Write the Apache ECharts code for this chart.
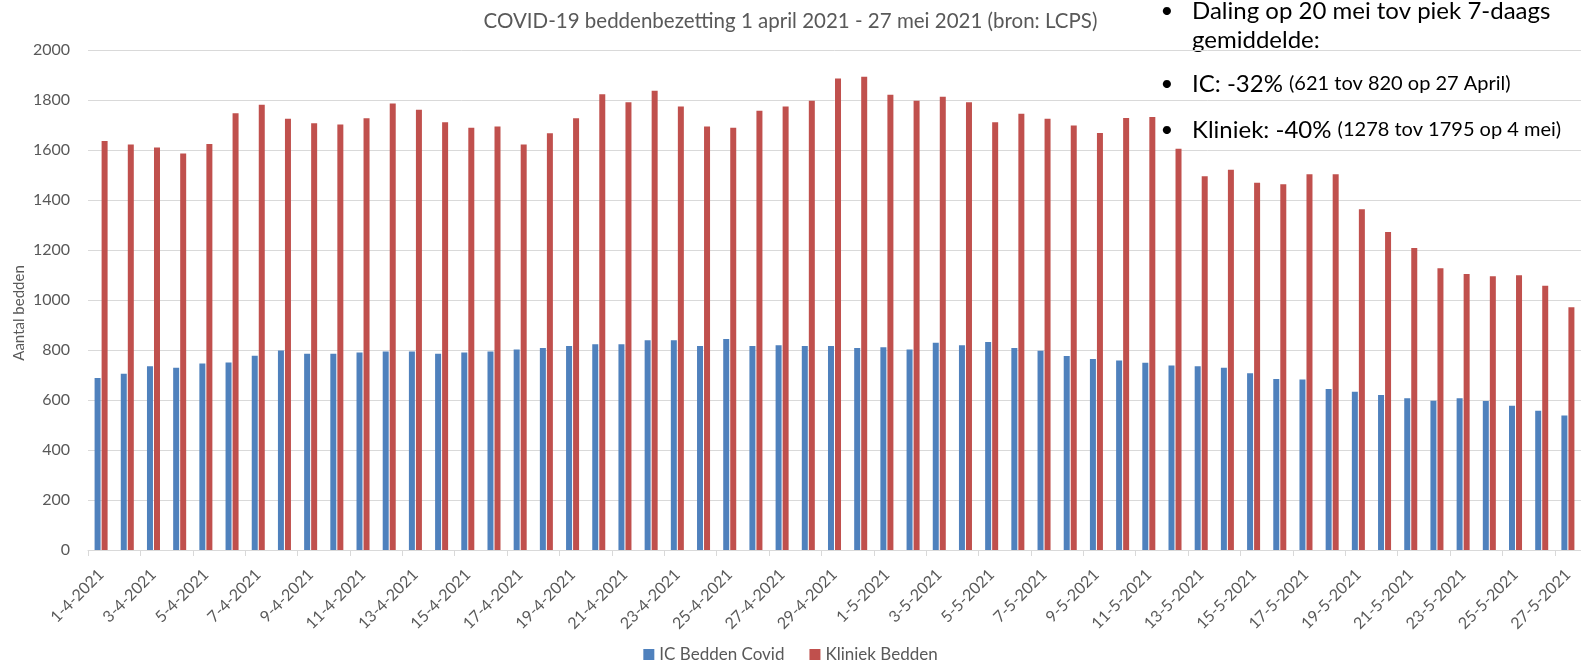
<!DOCTYPE html>
<html><head><meta charset="utf-8">
<script src="https://cdn.jsdelivr.net/npm/echarts@6/dist/echarts.min.js"></script>
<style>html,body{margin:0;padding:0;background:#fff}#c{width:1581px;height:671px}</style>
</head><body><div id="c"></div>
<script>
const categories = ['1-4-2021','2-4-2021','3-4-2021','4-4-2021','5-4-2021','6-4-2021','7-4-2021','8-4-2021','9-4-2021','10-4-2021',
'11-4-2021','12-4-2021','13-4-2021','14-4-2021','15-4-2021','16-4-2021','17-4-2021','18-4-2021','19-4-2021','20-4-2021',
'21-4-2021','22-4-2021','23-4-2021','24-4-2021','25-4-2021','26-4-2021','27-4-2021','28-4-2021','29-4-2021','30-4-2021',
'1-5-2021','2-5-2021','3-5-2021','4-5-2021','5-5-2021','6-5-2021','7-5-2021','8-5-2021','9-5-2021','10-5-2021',
'11-5-2021','12-5-2021','13-5-2021','14-5-2021','15-5-2021','16-5-2021','17-5-2021','18-5-2021','19-5-2021','20-5-2021',
'21-5-2021','22-5-2021','23-5-2021','24-5-2021','25-5-2021','26-5-2021','27-5-2021'];
const icBedden = [688,705,735,729,746,750,777,798,785,785,790,794,794,785,790,794,802,
808,816,823,823,839,839,816,844,816,819,816,816,808,811,802,829,819,832,808,797,
776,764,758,749,738,735,729,707,684,682,644,633,620,607,597,607,596,577,557,538];
const kliniekBedden = [1636,1622,1610,1586,1624,1747,1781,1725,1707,1702,1727,1786,1761,1711,1689,1694,1622,
1667,1727,1823,1791,1837,1774,1694,1689,1757,1774,1797,1886,1893,1821,1797,1813,1791,1711,1745,1725,
1698,1668,1728,1732,1605,1495,1521,1469,1463,1503,1503,1363,1272,1208,1127,1104,1095,1099,1057,971];
const seriesNames = ['IC Bedden Covid','Kliniek Bedden'];
const titleText = 'COVID-19 beddenbezetting 1 april 2021 - 27 mei 2021 (bron: LCPS)';
const yAxisName = 'Aantal bedden';
const notes = [
  {bullet:true, main:'Daling op 20 mei tov piek 7-daags', small:''},
  {bullet:false, main:'gemiddelde:', small:''},
  {bullet:true, main:'IC: -32%', small:'(621 tov 820 op 27 April)'},
  {bullet:true, main:'Kliniek: -40%', small:'(1278 tov 1795 op 4 mei)'}
];
const FONT = 'Lato';
const GREY = '#595959';
const chart = echarts.init(document.getElementById('c'), null, {renderer:'canvas'});
const noteY = [11, 40, 84, 130];
const graphics = [];
notes.forEach((n, i) => {
  if (n.bullet) graphics.push({type:'text', x:1167, y:noteY[i], style:{text:'•', fontFamily:FONT, fontSize:22, fill:'#000', verticalAlign:'middle', align:'center'}});
  graphics.push({type:'text', x:1192, y:noteY[i], style:{
    text: n.small ? '{a|' + n.main + ' }{b|' + n.small + '}' : '{a|' + n.main + '}',
    rich:{a:{fontFamily:FONT, fontSize:24, fill:'#000'}, b:{fontFamily:FONT, fontSize:20, fill:'#000'}},
    verticalAlign:'middle', align:'left'}});
});
graphics.push({type:'text', x:19, y:313, rotation:Math.PI/2, style:{text:yAxisName, fontFamily:FONT, fontSize:15, fill:GREY, align:'center', verticalAlign:'middle'}});
chart.setOption({
  animation:false,
  backgroundColor:'#fff',
  title:{text:titleText, left:'center', top:6, textStyle:{fontFamily:FONT, fontSize:20.5, fontWeight:'normal', color:GREY}},
  legend:{data:seriesNames, left:'center', bottom:3, itemWidth:11, itemHeight:11, itemGap:25, icon:'rect',
    textStyle:{fontFamily:FONT, fontSize:17, color:GREY}},
  grid:{left:88, right:-3, top:50, bottom:121},
  xAxis:{type:'category', data:categories, boundaryGap:true,
    axisLine:{lineStyle:{color:'#d9d9d9'}},
    axisTick:{show:true, interval:1, length:6, lineStyle:{color:'#d9d9d9'}},
    axisLabel:{interval:1, rotate:45, fontFamily:FONT, fontSize:16, color:GREY, margin:22}},
  yAxis:{type:'value', min:0, max:2000, interval:200,
    axisLine:{show:false}, axisTick:{show:false},
    splitLine:{lineStyle:{color:'#d9d9d9'}},
    axisLabel:{fontFamily:FONT, fontSize:16, color:GREY, margin:18, formatter:(v) => String(v)}},
  series:[
    {name:seriesNames[0], type:'bar', data:icBedden, barWidth:6, barGap:'17%', itemStyle:{color:'#4f81bd'}},
    {name:seriesNames[1], type:'bar', data:kliniekBedden, barWidth:6, barGap:'17%', itemStyle:{color:'#c0504d'}}
  ],
  graphic:graphics
});
</script></body></html>
